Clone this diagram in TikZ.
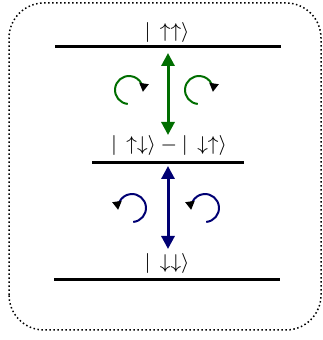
\documentclass[tikz,border=0pt]{standalone}
\usepackage{amsmath, amssymb}
\usetikzlibrary{arrows.meta}
\definecolor{levgreen}{RGB}{0,110,0}
\definecolor{levblue}{RGB}{0,0,115}
\tikzset{
	level/.style = {
		line width=1.2pt
	},
	ket/.style = {
		font=\footnotesize,
		inner sep=0pt
	},
	trans/.style = {
		{Triangle[width=5.2pt,length=5.2pt]}-{Triangle[width=5.2pt,length=5.2pt]},
		line width=1.2pt
	},
	curl/.style = {
		-{Triangle[width=3.6pt,length=3.4pt,color=black]},
		line width=0.8pt
	},
	frame/.style = {
		densely dotted,
		line width=0.6pt,
		rounded corners=14pt
	}
}
\begin{document}
\begin{tikzpicture}[x=0.4pt,y=0.4pt]
	\useasboundingbox (0,0) rectangle (322,340);
	
	% --- Niveles ---
	\coordinate (upL) at (55,293);
	\coordinate (upR) at (281,293);
	\coordinate (midL) at (92,177);
	\coordinate (midR) at (244,177);
	\coordinate (dnL) at (54,60);
	\coordinate (dnR) at (280,60);
	
	\draw[level] (upL) -- (upR);
	\draw[level] (midL) -- (midR);
	\draw[level] (dnL) -- (dnR);
	
	% Etiquetas de los estados
	\node[ket] (kup) at (167,307) {$|\,\uparrow\uparrow\rangle$};
	\node[ket] (kmid) at (169,194) {$|\,\uparrow\downarrow\rangle - |\,\downarrow\uparrow\rangle$};
	\node[ket] (kdn) at (167,77) {$|\,\downarrow\downarrow\rangle$};
	
	% --- Transiciones ---
	\coordinate (gtop) at (168,287);
	\coordinate (gbot) at (168,205);
	\coordinate (btop) at (168,174);
	\coordinate (bbot) at (168,91);
	
	\draw[trans, levgreen] (gtop) -- (gbot);
	\draw[trans, levblue] (btop) -- (bbot);
	
	% --- Giros ---
	\coordinate (cg1) at (129,250);
	\coordinate (cg2) at (199,250);
	\coordinate (cb1) at (132,132);
	\coordinate (cb2) at (205,132);
	
	\draw[curl, levgreen] ([shift={(265:14)}]cg1) arc[start angle=265, end angle=-8, radius=14];
	\draw[curl, levgreen] ([shift={(265:14)}]cg2) arc[start angle=265, end angle=-8, radius=14];
	\draw[curl, levblue] ([shift={(-85:14)}]cb1) arc[start angle=-85, end angle=188, radius=14];
	\draw[curl, levblue] ([shift={(-85:14)}]cb2) arc[start angle=-85, end angle=188, radius=14];
	
	% --- Caja punteada ---
	\draw[frame] (9,10) rectangle (321,337);
	
\end{tikzpicture}
\end{document}
